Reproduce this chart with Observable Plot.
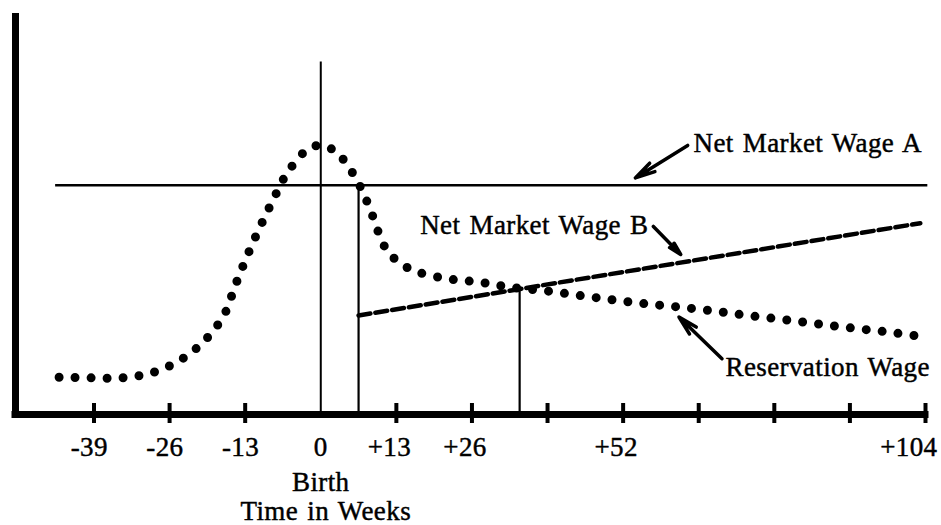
<!DOCTYPE html>
<html>
<head>
<meta charset="utf-8">
<script src="https://cdn.jsdelivr.net/npm/d3@7"></script>
<script src="https://cdn.jsdelivr.net/npm/@observablehq/plot@0.6"></script>
<style>
  html, body { margin: 0; padding: 0; background: #fff; }
  svg text { letter-spacing: 0.4px; word-spacing: 2px; }
</style>
</head>
<body>
<div id="chart"></div>
<script>
// ---- Data (weeks relative to birth, wage in arbitrary units) ----
const tickWeeks = [-39, -26, -13, 13, 26, 39, 52, 65, 78, 91, 104];
const labelWeeks = [-39, -26, -13, 0, 13, 26, 52];
const labelTexts = ["-39", "-26", "-13", "0", "+13", "+26", "+52"];
const lastLabelWeek = 104;
const lastLabelText = "+104";

const resWeeks = [-45, -39.6, -34.2, -28.8, -23.8, -19.8, -16.6, -14.7, -12.7, -10.5, -8.2, -5.7, -2.1, 0.2, 2.5, 4.3, 6.9, 8.9, 10.7, 12.1, 14.2, 16.7, 22, 27.3, 32.7, 38.4, 44.4, 50.2, 55.9, 61.6, 67.6, 73.4, 79.4, 85.4, 91.7, 97.9, 104];
const resWage  = [9.3, 9.15, 9.15, 10.5, 13.9, 18.7, 24.9, 32.2, 39.4, 46.6, 53.5, 60.4, 66.3, 67.1, 65.6, 62.8, 56.5, 49.6, 42.6, 39.7, 37.2, 35.5, 33.8, 33.0, 31.7, 30.9, 29.7, 28.6, 27.6, 26.8, 25.8, 24.7, 23.7, 22.6, 21.5, 20.5, 19.3];

const wageAWeeks = [-45.6, 104.4];
const wageAValue = 57.2;
const wageBWeeks = [6.5, 103.1];
const wageBValues = [24.7, 47.7];

const birthTop = 87.9;
const dropWeeks = [6.5, 34.2];
const dropValues = [57.2, 31.4];

const xDomain = [-52.5, 104];
const yDomain = [0, 100];

const annoLabels = ["Net Market Wage A", "Net Market Wage B", "Reservation Wage"];
const annoX = [64.1, 17.1, 69.6];
const annoY = [65.4, 45.1, 9.7];
const arrowFromX = [63.1, 57.2, 69.0];
const arrowFromY = [67.1, 46.9, 13.9];
const arrowToX = [54.1, 61.9, 61.6];
const arrowToY = [59.0, 39.9, 24.3];

// ---- Tables built from arrays ----
const resData = resWeeks.map((w, i) => ({w, v: resWage[i]}));
const bData = wageBWeeks.map((w, i) => ({w, v: wageBValues[i]}));
const drops = dropWeeks.map((w, i) => ({w, v: dropValues[i]}));
const labels = labelWeeks.map((w, i) => ({w, t: labelTexts[i]}));
const annos = annoLabels.map((t, i) => ({t, x: annoX[i], y: annoY[i], x1: arrowFromX[i], y1: arrowFromY[i], x2: arrowToX[i], y2: arrowToY[i]}));

// digits centred on the tick, sign hangs to the left
const fmt = (s) => s.startsWith("+") ? s + "\u2002"
                 : s.startsWith("-") ? s + "\u2004" : s;

const font = "Liberation Serif, Times New Roman, serif";
const fs = 27;
const ink = {fill: "black", stroke: "black", strokeWidth: 0.45, fontFamily: font, fontSize: fs};

const chart = Plot.plot({
  width: 941,
  height: 525,
  marginTop: 13,
  marginBottom: 111,
  marginLeft: 15,
  marginRight: 16,
  style: {fontFamily: font, fontSize: fs + "px", color: "black", background: "white"},
  x: {domain: xDomain, axis: null},
  y: {domain: yDomain, axis: null},
  marks: [
    // Net market wage A (horizontal)
    Plot.ruleY([wageAValue], {x1: wageAWeeks[0], x2: wageAWeeks[1], stroke: "black", strokeWidth: 2.5}),
    // Birth line
    Plot.ruleX([0], {y1: 0, y2: birthTop, stroke: "black", strokeWidth: 2}),
    // drop lines at crossing points
    Plot.ruleX(drops, {x: "w", y1: 0, y2: "v", stroke: "black", strokeWidth: 2.2}),
    // Net market wage B (dashed)
    Plot.line(bData, {x: "w", y: "v", stroke: "black", strokeWidth: 4.5, strokeDasharray: "12,5"}),
    // Reservation wage (dotted)
    Plot.line(resData, {x: "w", y: "v", curve: "catmull-rom", stroke: "black", strokeWidth: 9, strokeDasharray: "0,16", strokeLinecap: "round"}),
    // Axes
    Plot.ruleX([xDomain[0]], {y1: yDomain[0], y2: yDomain[1], stroke: "black", strokeWidth: 7}),
    Plot.ruleY([0], {x1: xDomain[0], x2: 104, stroke: "black", strokeWidth: 7, strokeLinecap: "square"}),
    Plot.axisX({ticks: tickWeeks, tickSize: 20, dy: -11, strokeWidth: 4, tickFormat: () => ""}),
    Plot.text(labels, {x: "w", text: (d) => fmt(d.t), frameAnchor: "bottom", lineAnchor: "bottom", dy: 41, ...ink}),
    Plot.text([lastLabelText], {x: lastLabelWeek, frameAnchor: "bottom", lineAnchor: "bottom", textAnchor: "end", dx: 12, dy: 41, ...ink}),
    Plot.text(["Birth"], {x: 0, frameAnchor: "bottom", lineAnchor: "bottom", dy: 76, ...ink}),
    Plot.text(["Time in Weeks"], {x: 0, frameAnchor: "bottom", lineAnchor: "bottom", dy: 105, dx: 5, ...ink}),
    // Annotations
    Plot.arrow(annos, {x1: "x1", y1: "y1", x2: "x2", y2: "y2", stroke: "black", strokeWidth: 3.5, headLength: 16, headAngle: 28}),
    Plot.text(annos, {x: "x", y: "y", text: "t", textAnchor: "start", lineAnchor: "bottom", ...ink})
  ]
});
document.getElementById("chart").appendChild(chart);
</script>
</body>
</html>
